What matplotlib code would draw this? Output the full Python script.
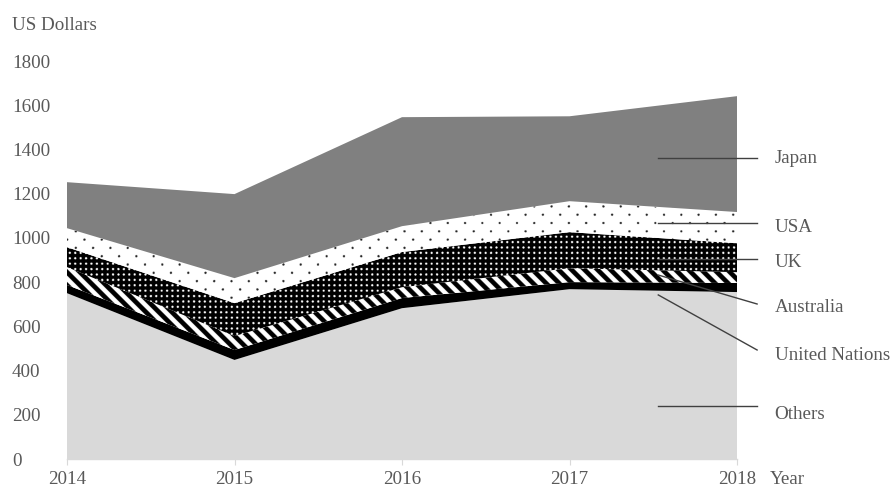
import numpy as np
import matplotlib
matplotlib.use('Agg')
import matplotlib.pyplot as plt
from matplotlib.patches import PathPatch

# Donor contributions per year (US dollars), stacked bottom to top
years = [2014, 2015, 2016, 2017, 2018]
others = [750, 448, 682, 768, 755]
united_nations = [37, 45, 46, 32, 41]
australia = [81, 63, 49, 63, 49]
uk = [90, 149, 159, 163, 131]
usa = [86, 113, 117, 140, 141]
japan = [208, 380, 493, 384, 524]
names = ['Others', 'United Nations', 'Australia', 'UK', 'USA', 'Japan']

plt.rcParams['font.family'] = ['Liberation Serif', 'DejaVu Serif']
plt.rcParams['font.size'] = 13.7
txt = '#595959'

fig = plt.figure(figsize=(8.95, 4.88), dpi=100)
ax = fig.add_axes([67 / 895, 29 / 488, 670 / 895, 398 / 488])

# Fill patterns, built in screen pixels (supersampled)
S = 3
W, H = 670, 398
jj, ii = np.meshgrid(np.arange(W * S) / S, np.arange(H * S) / S)

stripes = np.where(((ii - jj) % 13) < 6.5, 0.0, 1.0)

dx = (jj % 5.4) - 2.7
dy = (ii % 5.4) - 2.7
dark_dots = np.where(dx ** 2 + dy ** 2 < 1.3, 1.0, 0.0)

row = np.floor(ii / 8.3)
dx = ((jj - (row % 2) * 8.65) % 17.3) - 8.65
dy = (ii % 8.3) - 4.15
light_dots = np.where(dx ** 2 + dy ** 2 < 1.3, 0.15, 1.0)

styles = ['#d9d9d9', 'black', stripes, dark_dots, light_dots, '#808080']
layers = [others, united_nations, australia, uk, usa, japan]

base = np.zeros(len(years))
for i, (vals, st) in enumerate(zip(layers, styles)):
    top = base + np.array(vals)
    if isinstance(st, str):
        ax.fill_between(years, base, top, facecolor=st, linewidth=0,
                        zorder=2 + i)
    else:
        poly = ax.fill_between(years, base, top, facecolor='none',
                               linewidth=0, zorder=2 + i)
        img = ax.imshow(st, cmap='gray', vmin=0, vmax=1,
                        extent=(years[0], years[-1], 0, 1800),
                        aspect='auto', interpolation='antialiased',
                        zorder=2 + i)
        img.set_clip_path(PathPatch(poly.get_paths()[0],
                                    transform=ax.transData))
    base = top

ax.set_xlim(years[0], years[-1])
ax.set_ylim(0, 1800)
ax.set_xticks(years)
ax.set_yticks(range(0, 1801, 200))

for s in ['top', 'right', 'left']:
    ax.spines[s].set_visible(False)
ax.spines['bottom'].set_color('#d9d9d9')
ax.spines['bottom'].set_linewidth(1.0)
ax.spines['bottom'].set_zorder(10)

ax.tick_params(axis='x', direction='out', length=4, color='#d9d9d9',
               labelcolor=txt, pad=5)
ax.tick_params(axis='y', length=0, labelcolor=txt, pad=39.6)
for lab in ax.get_yticklabels():
    lab.set_ha('left')

# Series labels with leader lines
lab_y = [199, 470, 683, 887, 1049, 1361]
line_start = [240, 742, 832, 905, 1067, 1363]
line_end = [240, 493, 701, 905, 1067, 1363]
for name, ty, y0, y1 in zip(names, lab_y, line_start, line_end):
    ax.plot([2017.53, 2018.12], [y0, y1], color='#404040', lw=1.0,
            clip_on=False, zorder=20)
    ax.text(2018.225, ty, name, color=txt, va='center', ha='left')

fig.text(12 / 895, 1 - 25 / 488, 'US Dollars', color=txt, va='center')
fig.text(770 / 895, 1 - 479 / 488, 'Year', color=txt, va='center')

plt.savefig('out.png', dpi=100)
